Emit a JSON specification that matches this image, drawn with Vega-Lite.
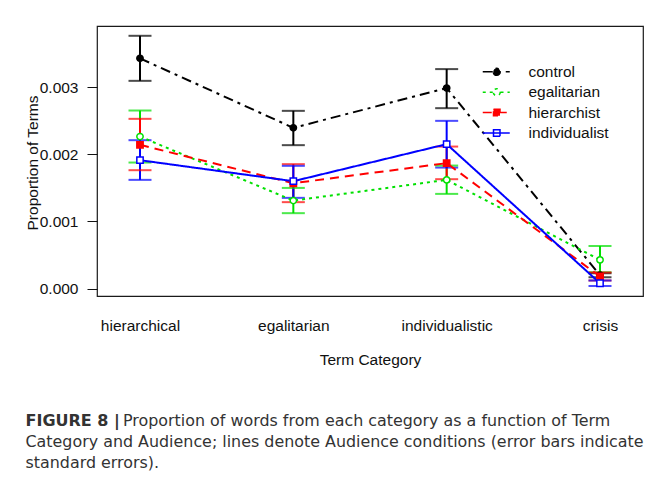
{
  "$schema": "https://vega.github.io/schema/vega-lite/v6.json",
  "width": 546,
  "height": 270,
  "autosize": {"type": "none"},
  "padding": {"left": 97, "top": 26, "right": 14, "bottom": 194},
  "background": "white",
  "data": {
    "values": [
      {"category": "hierarchical", "audience": "control", "mean": 0.00343, "lo": 0.003095, "hi": 0.003766},
      {"category": "egalitarian", "audience": "control", "mean": 0.002395, "lo": 0.002137, "hi": 0.002648},
      {"category": "individualistic", "audience": "control", "mean": 0.002987, "lo": 0.002688, "hi": 0.00327},
      {"category": "crisis", "audience": "control", "mean": 0.0002, "lo": 0.00017, "hi": 0.00023},
      {"category": "hierarchical", "audience": "egalitarian", "mean": 0.002265, "lo": 0.001878, "hi": 0.002653},
      {"category": "egalitarian", "audience": "egalitarian", "mean": 0.001311, "lo": 0.001124, "hi": 0.0015},
      {"category": "individualistic", "audience": "egalitarian", "mean": 0.00162, "lo": 0.001411, "hi": 0.001833},
      {"category": "crisis", "audience": "egalitarian", "mean": 0.000428, "lo": 0.000244, "hi": 0.000636},
      {"category": "hierarchical", "audience": "hierarchist", "mean": 0.002142, "lo": 0.001764, "hi": 0.002529},
      {"category": "egalitarian", "audience": "hierarchist", "mean": 0.00157, "lo": 0.001288, "hi": 0.001854},
      {"category": "individualistic", "audience": "hierarchist", "mean": 0.001869, "lo": 0.00163, "hi": 0.002116},
      {"category": "crisis", "audience": "hierarchist", "mean": 0.00018, "lo": 0.00012, "hi": 0.00024},
      {"category": "hierarchical", "audience": "individualist", "mean": 0.001913, "lo": 0.00162, "hi": 0.002211},
      {"category": "egalitarian", "audience": "individualist", "mean": 0.0016, "lo": 0.001352, "hi": 0.001829},
      {"category": "individualistic", "audience": "individualist", "mean": 0.002152, "lo": 0.001803, "hi": 0.002499},
      {"category": "crisis", "audience": "individualist", "mean": 0.00008, "lo": 0.00004, "hi": 0.00012}
    ]
  },
  "title": {
    "text": "FIGURE 8 |",
    "subtitle": [
      "\u200b\u00a0\u00a0\u00a0\u00a0\u00a0\u00a0\u00a0\u00a0\u00a0\u00a0\u00a0\u00a0\u00a0\u00a0\u00a0\u00a0\u00a0\u00a0\u00a0\u200aProportion of words from each category as a function of Term",
      "Category and Audience; lines denote Audience conditions (error bars indicate",
      "standard errors)."
    ],
    "orient": "bottom",
    "anchor": "start",
    "frame": "bounds",
    "offset": 45,
    "font": "DejaVu Sans",
    "fontSize": 16,
    "fontWeight": "bold",
    "color": "#333333",
    "subtitleFont": "DejaVu Sans",
    "subtitleFontSize": 15.9,
    "subtitleFontWeight": "normal",
    "subtitleColor": "#333333",
    "subtitleLineHeight": 21.2,
    "subtitlePadding": -16
  },
  "encoding": {
    "x": {
      "field": "category",
      "type": "nominal",
      "title": "Term Category",
      "scale": {"type": "point", "domain": ["hierarchical", "egalitarian", "individualistic", "crisis"], "padding": 0.2804},
      "axis": {
        "ticks": false,
        "tickSize": 0,
        "domain": false,
        "grid": false,
        "labelAngle": 0,
        "labelPadding": 34.7,
        "labelBaseline": "alphabetic",
        "titleY": 68,
        "titleBaseline": "alphabetic"
      }
    }
  },
  "layer": [
    {
      "mark": {"type": "rule", "strokeWidth": 2},
      "encoding": {
        "y": {
          "field": "lo", "type": "quantitative", "title": "Proportion of Terms",
          "scale": {"domain": [-0.00011, 0.003912], "nice": false, "zero": false},
          "axis": {
            "values": [0, 0.001, 0.002, 0.003],
            "format": ".3f",
            "tickSize": 10,
            "tickWidth": 1,
            "labelPadding": 9,
            "domain": false,
            "grid": false,
            "titleX": -59.5,
            "titleY": 136.5,
            "titleBaseline": "alphabetic"
          }
        },
        "y2": {"field": "hi"},
        "color": {"field": "audience", "type": "nominal"}
      }
    },
    {
      "mark": {"type": "tick", "size": 21, "thickness": 0.01, "strokeWidth": 2, "filled": false, "orient": "horizontal"},
      "encoding": {
        "y": {"field": "lo", "type": "quantitative", "title": "Proportion of Terms"},
        "color": {"field": "audience", "type": "nominal"}
      }
    },
    {
      "mark": {"type": "tick", "size": 21, "thickness": 0.01, "strokeWidth": 2, "filled": false, "orient": "horizontal"},
      "encoding": {
        "y": {"field": "hi", "type": "quantitative", "title": "Proportion of Terms"},
        "color": {"field": "audience", "type": "nominal"}
      }
    },
    {
      "mark": {"type": "line", "strokeWidth": 2},
      "encoding": {
        "y": {"field": "mean", "type": "quantitative", "title": "Proportion of Terms"},
        "color": {"field": "audience", "type": "nominal"},
        "strokeDash": {"field": "audience", "type": "nominal"}
      }
    },
    {
      "transform": [{"filter": "datum.audience === 'control' || datum.audience === 'egalitarian'"}],
      "mark": {"type": "point", "shape": "circle", "size": 40, "strokeWidth": 1.5, "opacity": 1},
      "encoding": {
        "y": {"field": "mean", "type": "quantitative", "title": "Proportion of Terms"},
        "color": {"field": "audience", "type": "nominal"},
        "fill": {"field": "audience", "type": "nominal"}
      }
    },
    {
      "transform": [{"filter": "datum.audience === 'hierarchist' || datum.audience === 'individualist'"}],
      "mark": {"type": "point", "shape": "square", "size": 40, "strokeWidth": 1.5, "opacity": 1},
      "encoding": {
        "y": {"field": "mean", "type": "quantitative", "title": "Proportion of Terms"},
        "color": {"field": "audience", "type": "nominal"},
        "fill": {"field": "audience", "type": "nominal"}
      }
    },
    {
      "mark": {"type": "point", "opacity": 0},
      "encoding": {
        "y": {"field": "mean", "type": "quantitative", "title": "Proportion of Terms"},
        "color": {
          "field": "audience", "type": "nominal",
          "scale": {"domain": ["control", "egalitarian", "hierarchist", "individualist"], "range": ["#000000", "#00e000", "#ff0000", "#0000ff"]},
          "legend": {"symbolOpacity": 1}
        },
        "fill": {
          "field": "audience", "type": "nominal",
          "scale": {"domain": ["control", "egalitarian", "hierarchist", "individualist"], "range": ["#000000", "#ffffff", "#ff0000", "#ffffff"]},
          "legend": {"symbolOpacity": 1}
        },
        "strokeDash": {
          "field": "audience", "type": "nominal",
          "scale": {"domain": ["control", "egalitarian", "hierarchist", "individualist"], "range": [[10, 5, 3, 5], [3, 4], [9, 6], [1, 0]]},
          "legend": {"symbolOpacity": 1}
        },
        "shape": {
          "field": "audience", "type": "nominal",
          "scale": {"domain": ["control", "egalitarian", "hierarchist", "individualist"], "range": [
            "M-2.8,0H2.6M0.7,0A0.7,0.7,0,1,1,-0.7,0A0.7,0.7,0,1,1,0.7,0Z",
            "M-2.8,0H-0.75M0.75,0H2.6M0.7,0A0.7,0.7,0,1,1,-0.7,0A0.7,0.7,0,1,1,0.7,0Z",
            "M-2.8,0H2.6M-0.65,-0.65H0.65V0.65H-0.65Z",
            "M-2.8,0H2.6M-0.65,-0.65H0.65V0.65H-0.65Z"
          ]},
          "legend": {"symbolOpacity": 1}
        }
      }
    }
  ],
  "config": {
    "font": "Liberation Sans",
    "view": {"stroke": "#1a1a1a", "strokeWidth": 1.2},
    "axis": {
      "labelFont": "Liberation Sans",
      "titleFont": "Liberation Sans",
      "labelFontSize": 15.5,
      "titleFontSize": 15.5,
      "titleFontWeight": "normal",
      "labelColor": "#111111",
      "titleColor": "#111111",
      "tickColor": "#111111"
    },
    "legend": {
      "orient": "none",
      "legendX": 392,
      "legendY": 38,
      "padding": 0,
      "symbolSize": 100,
      "symbolStrokeWidth": 1.5,
      "symbolOpacity": 1,
      "labelOffset": 24,
      "rowPadding": 3.4,
      "labelFont": "Liberation Sans",
      "labelFontSize": 15.5,
      "labelColor": "#111111",
      "titleFontSize": 0,
      "titlePadding": 0
    }
  }
}
